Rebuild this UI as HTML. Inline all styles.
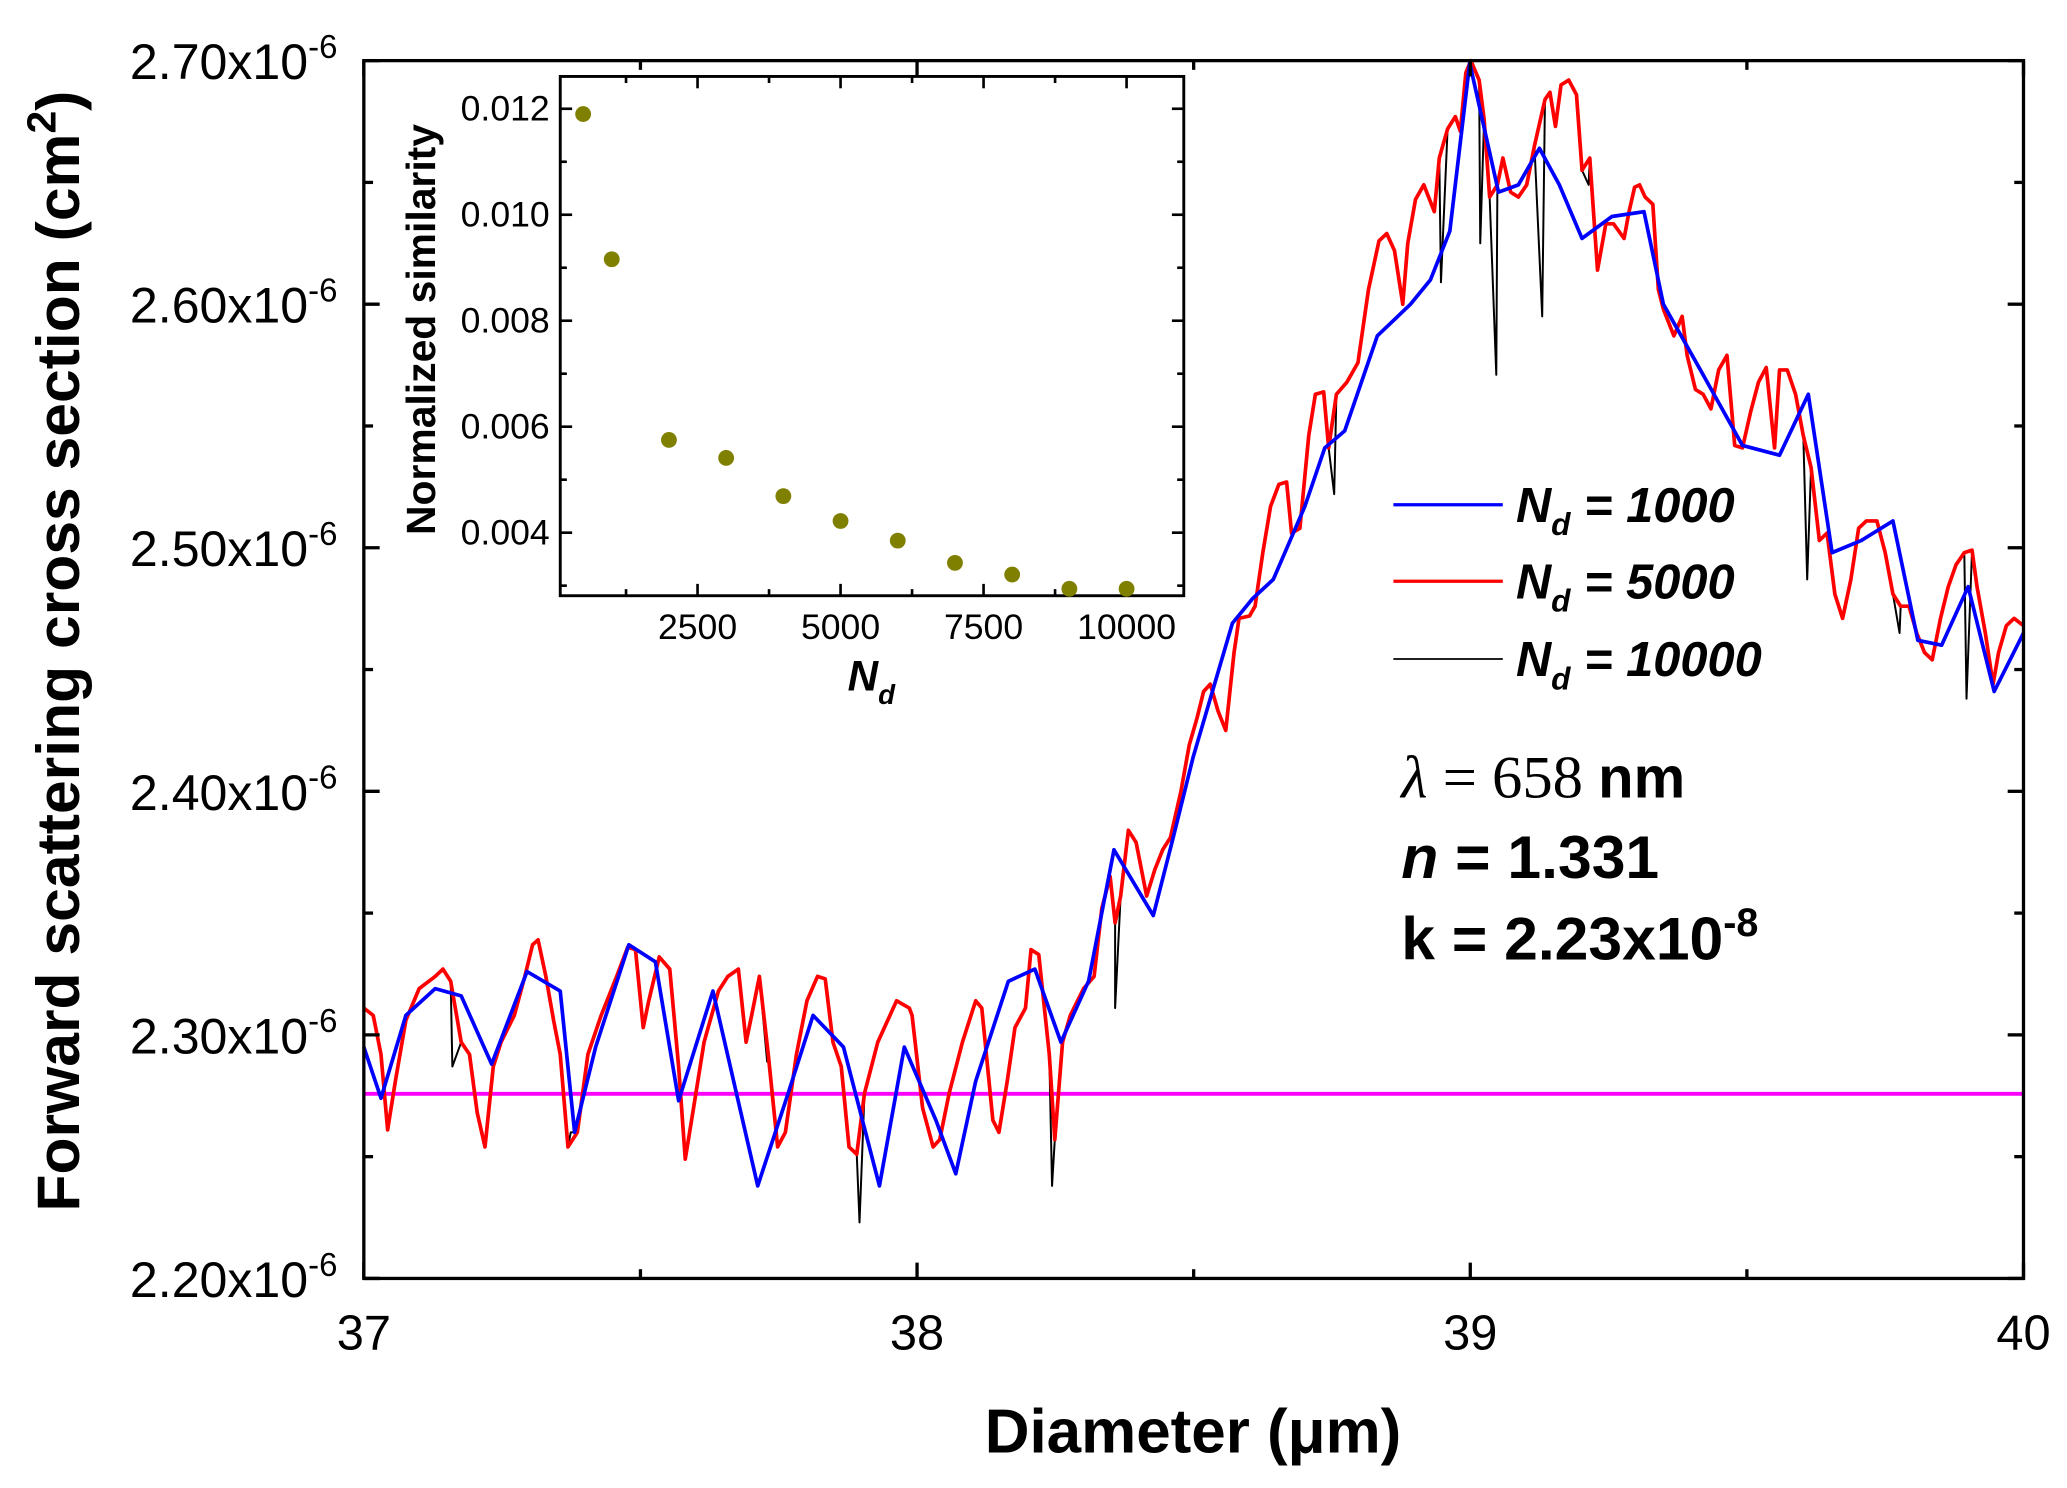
<!DOCTYPE html>
<html><head><meta charset="utf-8"><style>
html,body{margin:0;padding:0;background:#fff}
svg{display:block;font-family:"Liberation Sans",Arial,sans-serif}
</style></head><body>
<svg id="chart" width="2067" height="1488" viewBox="0 0 1568 1129" preserveAspectRatio="none" xmlns="http://www.w3.org/2000/svg">
<g id="main"></g>
</svg>
<script>
// ---- main chart data (x in µm, y in units of 1e-6 cm^2) ----
const blueX=[37.000,37.031,37.076,37.129,37.176,37.231,37.295,37.355,37.381,37.419,37.479,37.527,37.569,37.631,37.712,37.767,37.812,37.867,37.932,37.977,38.034,38.070,38.106,38.165,38.213,38.260,38.310,38.356,38.427,38.463,38.499,38.530,38.570,38.606,38.644,38.701,38.737,38.773,38.832,38.892,38.928,38.963,38.999,39.051,39.087,39.125,39.161,39.202,39.256,39.314,39.349,39.416,39.492,39.559,39.611,39.654,39.707,39.764,39.809,39.852,39.900,39.947,40.000];
const blueY=[2.295,2.274,2.308,2.319,2.316,2.288,2.326,2.318,2.260,2.295,2.337,2.330,2.273,2.318,2.238,2.276,2.308,2.295,2.238,2.295,2.265,2.243,2.281,2.322,2.327,2.297,2.322,2.376,2.349,2.381,2.414,2.438,2.469,2.479,2.487,2.517,2.541,2.548,2.587,2.600,2.610,2.630,2.699,2.646,2.649,2.664,2.649,2.627,2.636,2.638,2.600,2.573,2.542,2.538,2.563,2.498,2.503,2.511,2.462,2.460,2.484,2.441,2.465];
const redX=[37.000,37.017,37.031,37.043,37.057,37.076,37.100,37.129,37.143,37.157,37.176,37.191,37.205,37.219,37.234,37.248,37.272,37.291,37.305,37.315,37.329,37.343,37.355,37.369,37.386,37.405,37.429,37.457,37.477,37.491,37.505,37.515,37.534,37.553,37.569,37.581,37.596,37.615,37.641,37.658,37.677,37.691,37.701,37.715,37.731,37.748,37.762,37.782,37.801,37.820,37.834,37.848,37.863,37.877,37.891,37.905,37.929,37.963,37.986,37.991,38.010,38.029,38.041,38.058,38.082,38.106,38.117,38.137,38.148,38.163,38.177,38.196,38.206,38.220,38.239,38.249,38.263,38.277,38.301,38.320,38.334,38.349,38.358,38.368,38.382,38.396,38.415,38.430,38.444,38.458,38.477,38.492,38.506,38.518,38.530,38.544,38.558,38.573,38.582,38.601,38.611,38.625,38.639,38.654,38.668,38.677,38.692,38.708,38.720,38.735,38.744,38.758,38.777,38.797,38.816,38.835,38.849,38.863,38.878,38.887,38.901,38.916,38.935,38.944,38.959,38.973,38.982,38.992,39.001,39.016,39.025,39.035,39.049,39.059,39.073,39.087,39.102,39.116,39.135,39.144,39.154,39.164,39.178,39.192,39.202,39.216,39.230,39.245,39.259,39.278,39.287,39.297,39.306,39.316,39.330,39.340,39.349,39.368,39.383,39.392,39.407,39.421,39.435,39.449,39.464,39.478,39.492,39.507,39.521,39.535,39.550,39.559,39.573,39.588,39.602,39.616,39.631,39.645,39.659,39.673,39.688,39.702,39.716,39.735,39.750,39.764,39.778,39.793,39.807,39.821,39.835,39.850,39.864,39.878,39.893,39.907,39.916,39.931,39.945,39.955,39.969,39.983,40.000];
const redY=[2.311,2.308,2.292,2.261,2.281,2.306,2.319,2.324,2.327,2.322,2.297,2.292,2.268,2.254,2.287,2.297,2.308,2.324,2.337,2.339,2.324,2.306,2.292,2.254,2.260,2.292,2.308,2.324,2.336,2.335,2.303,2.314,2.332,2.327,2.287,2.249,2.270,2.297,2.318,2.324,2.327,2.297,2.308,2.324,2.292,2.254,2.260,2.292,2.314,2.324,2.323,2.297,2.287,2.254,2.251,2.276,2.297,2.314,2.311,2.308,2.270,2.254,2.257,2.276,2.297,2.314,2.311,2.265,2.260,2.281,2.303,2.311,2.335,2.333,2.292,2.257,2.297,2.308,2.319,2.324,2.352,2.365,2.346,2.357,2.384,2.379,2.357,2.368,2.376,2.381,2.400,2.419,2.430,2.441,2.444,2.433,2.425,2.457,2.471,2.472,2.476,2.498,2.517,2.526,2.527,2.506,2.508,2.546,2.563,2.564,2.541,2.563,2.568,2.576,2.606,2.626,2.629,2.622,2.600,2.625,2.643,2.649,2.638,2.660,2.672,2.677,2.671,2.695,2.700,2.692,2.676,2.644,2.649,2.660,2.646,2.644,2.649,2.665,2.684,2.687,2.673,2.690,2.692,2.686,2.655,2.660,2.614,2.633,2.633,2.627,2.638,2.648,2.649,2.644,2.641,2.606,2.598,2.587,2.595,2.579,2.565,2.563,2.557,2.573,2.579,2.542,2.541,2.556,2.568,2.574,2.541,2.573,2.573,2.563,2.546,2.533,2.503,2.506,2.481,2.471,2.487,2.508,2.511,2.511,2.498,2.481,2.476,2.476,2.465,2.457,2.454,2.471,2.484,2.493,2.498,2.499,2.484,2.465,2.444,2.457,2.468,2.471,2.468];
// black (N_d = 10000): follows red plus additional narrow dips
const blackSpikeX=[37.160,37.374,37.412,37.729,37.896,38.244,38.358,38.754,38.947,39.018,39.047,39.130,39.214,39.471,39.609,39.776,39.897];
const blackSpikeY=[2.287,2.260,2.297,2.289,2.223,2.238,2.311,2.522,2.609,2.625,2.571,2.595,2.649,2.563,2.487,2.465,2.438];
const thresholdY=2.2758;
const xTicks=[37,38,39,40];
const yTicks=[2.20,2.30,2.40,2.50,2.60,2.70];
// ---- inset data ----
const insetN=[500,1000,2000,3000,4000,5000,6000,7000,8000,9000,10000];
const insetS=[0.0119,0.00916,0.00575,0.00541,0.00469,0.00422,0.00385,0.00343,0.00321,0.00294,0.00294];
const insetXTicks=[2500,5000,7500,10000];
const insetYTicks=[0.004,0.006,0.008,0.010,0.012];

const NS='http://www.w3.org/2000/svg';
const root=document.getElementById('main');
function mk(tag,attrs,parent){const e=document.createElementNS(NS,tag);for(const k in attrs)e.setAttribute(k,attrs[k]);(parent||root).appendChild(e);return e;}

const L=276,R=1535,T=46,B=970;
const sx=v=>L+(v-37)/3*(R-L);
const sy=v=>B-(v-2.2)/0.5*(B-T);

const th=mk('line',{x1:L,x2:R,y1:sy(thresholdY),y2:sy(thresholdY),stroke:'#ff00ff','stroke-width':3});



function poly(xs,ys,color,w,name){
  const pts=xs.map((x,i)=>sx(x).toFixed(2)+','+sy(ys[i]).toFixed(2)).join(' ');
  const p=mk('polyline',{points:pts,fill:'none',stroke:color,'stroke-width':w,'stroke-linejoin':'round'});
  
  
}
const bx=[],by=[];
{const all=redX.map((x,i)=>[x,redY[i]]).concat(blackSpikeX.map((x,i)=>[x,blackSpikeY[i]]));all.sort((a,b)=>a[0]-b[0]);all.forEach(p=>{bx.push(p[0]);by.push(p[1]);});}
poly(bx,by,'#000000',1.5,'series-nd-10000');
poly(redX,redY,'#ff0000',2.8,'series-nd-5000');
poly(blueX,blueY,'#0000ff',2.8,'series-nd-1000');

const fr=mk('rect',{x:L,y:T,width:R-L,height:B-T,fill:'none',stroke:'#000','stroke-width':2.5});



xTicks.forEach((v,i)=>{
  const x=sx(v);
  mk('line',{x1:x,x2:x,y1:B,y2:B-12,stroke:'#000','stroke-width':2.5});
  mk('line',{x1:x,x2:x,y1:T,y2:T+12,stroke:'#000','stroke-width':2.5});
  if(i<xTicks.length-1){const xm=sx(v+0.5);
    mk('line',{x1:xm,x2:xm,y1:B,y2:B-7,stroke:'#000','stroke-width':2.5});
    mk('line',{x1:xm,x2:xm,y1:T,y2:T+7,stroke:'#000','stroke-width':2.5});}
  const t=mk('text',{x:x,y:B+54,'font-size':37,'text-anchor':'middle'});
  t.textContent=String(v);
  
  
});
yTicks.forEach((v,i)=>{
  const y=sy(v);
  mk('line',{x1:L,x2:L+12,y1:y,y2:y,stroke:'#000','stroke-width':2.5});
  mk('line',{x1:R,x2:R-12,y1:y,y2:y,stroke:'#000','stroke-width':2.5});
  if(i<yTicks.length-1){const ym=sy(v+0.05);
    mk('line',{x1:L,x2:L+7,y1:ym,y2:ym,stroke:'#000','stroke-width':2.5});
    mk('line',{x1:R,x2:R-7,y1:ym,y2:ym,stroke:'#000','stroke-width':2.5});}
  const t=mk('text',{x:L-20,y:y+14,'font-size':38,'text-anchor':'end'});
  
  
  const a=document.createElementNS(NS,'tspan');a.textContent=v.toFixed(2)+'x10';t.appendChild(a);
  const s=document.createElementNS(NS,'tspan');s.setAttribute('dy','-16');s.setAttribute('font-size','25');s.textContent='-6';t.appendChild(s);
});

// ---- inset ----
const IL=425,IR=898,IT=58,IB=452;
const ix=v=>IL+(v-100)/10900*(IR-IL);
const iy=v=>IB-(v-0.00281)/0.0098*(IB-IT);
const ifr=mk('rect',{x:IL,y:IT,width:IR-IL,height:IB-IT,fill:'#fff',stroke:'#000','stroke-width':2.2});


insetXTicks.forEach(v=>{
  const x=ix(v);
  mk('line',{x1:x,x2:x,y1:IB,y2:IB-9,stroke:'#000','stroke-width':2});
  mk('line',{x1:x,x2:x,y1:IT,y2:IT+9,stroke:'#000','stroke-width':2});
  const xm=ix(v-1250);
  mk('line',{x1:xm,x2:xm,y1:IB,y2:IB-5,stroke:'#000','stroke-width':2});
  mk('line',{x1:xm,x2:xm,y1:IT,y2:IT+5,stroke:'#000','stroke-width':2});
  const t=mk('text',{x:x,y:IB+33,'font-size':27,'text-anchor':'middle'});
  t.textContent=String(v);
  
  
});
insetYTicks.forEach(v=>{
  const y=iy(v);
  mk('line',{x1:IL,x2:IL+9,y1:y,y2:y,stroke:'#000','stroke-width':2});
  mk('line',{x1:IR,x2:IR-9,y1:y,y2:y,stroke:'#000','stroke-width':2});
  const ym=iy(v-0.001);
  mk('line',{x1:IL,x2:IL+5,y1:ym,y2:ym,stroke:'#000','stroke-width':2});
  mk('line',{x1:IR,x2:IR-5,y1:ym,y2:ym,stroke:'#000','stroke-width':2});
  const t=mk('text',{x:IL-8,y:y+9,'font-size':27,'text-anchor':'end'});
  t.textContent=v.toFixed(3);
  
  
});
insetN.forEach((n,i)=>{
  const c=mk('circle',{cx:ix(n),cy:iy(insetS[i]),r:6,fill:'#808000'});
  
  
});
</script>
<svg style="position:absolute;left:0;top:0" width="2067" height="1488" viewBox="0 0 1568 1129" preserveAspectRatio="none" xmlns="http://www.w3.org/2000/svg" font-family="Liberation Sans, Arial, sans-serif">
  <text transform="translate(60,494) rotate(-90)" text-anchor="middle" font-size="46" font-weight="bold">Forward scattering cross section (cm<tspan dy="-18" font-size="31">2</tspan><tspan dy="18">)</tspan></text>
  <text x="905" y="1102" text-anchor="middle" font-size="47" font-weight="bold">Diameter (μm)</text>
  <text transform="translate(330,250) rotate(-90)" text-anchor="middle" font-size="31" font-weight="bold">Normalized similarity</text>
  <text x="643" y="524" font-size="32" font-weight="bold" font-style="italic">N<tspan dy="10" font-size="21">d</tspan></text>
  <g font-size="37" font-weight="bold" font-style="italic">
    <line x1="1057" x2="1140" y1="383" y2="383" stroke="#0000ff" stroke-width="2.5"/>
    <text x="1150" y="396">N<tspan dy="10" font-size="24">d</tspan><tspan dy="-10"> = 1000</tspan></text>
    <line x1="1057" x2="1140" y1="441" y2="441" stroke="#ff0000" stroke-width="2.5"/>
    <text x="1150" y="454">N<tspan dy="10" font-size="24">d</tspan><tspan dy="-10"> = 5000</tspan></text>
    <line x1="1057" x2="1140" y1="500" y2="500" stroke="#000" stroke-width="1.3"/>
    <text x="1150" y="513">N<tspan dy="10" font-size="24">d</tspan><tspan dy="-10"> = 10000</tspan></text>
  </g>
  <text x="1063" y="605" font-size="46"><tspan font-family="Liberation Serif, serif" font-style="italic">λ</tspan><tspan font-family="Liberation Serif, serif"> = 658 </tspan><tspan font-weight="bold" font-size="44">nm</tspan></text>
  <text x="1063" y="666" font-size="46" font-weight="bold"><tspan font-style="italic">n</tspan> = 1.331</text>
  <text x="1063" y="728" font-size="46" font-weight="bold">k = 2.23x10<tspan dy="-18" font-size="30">-8</tspan></text>
</svg>
</body></html>
